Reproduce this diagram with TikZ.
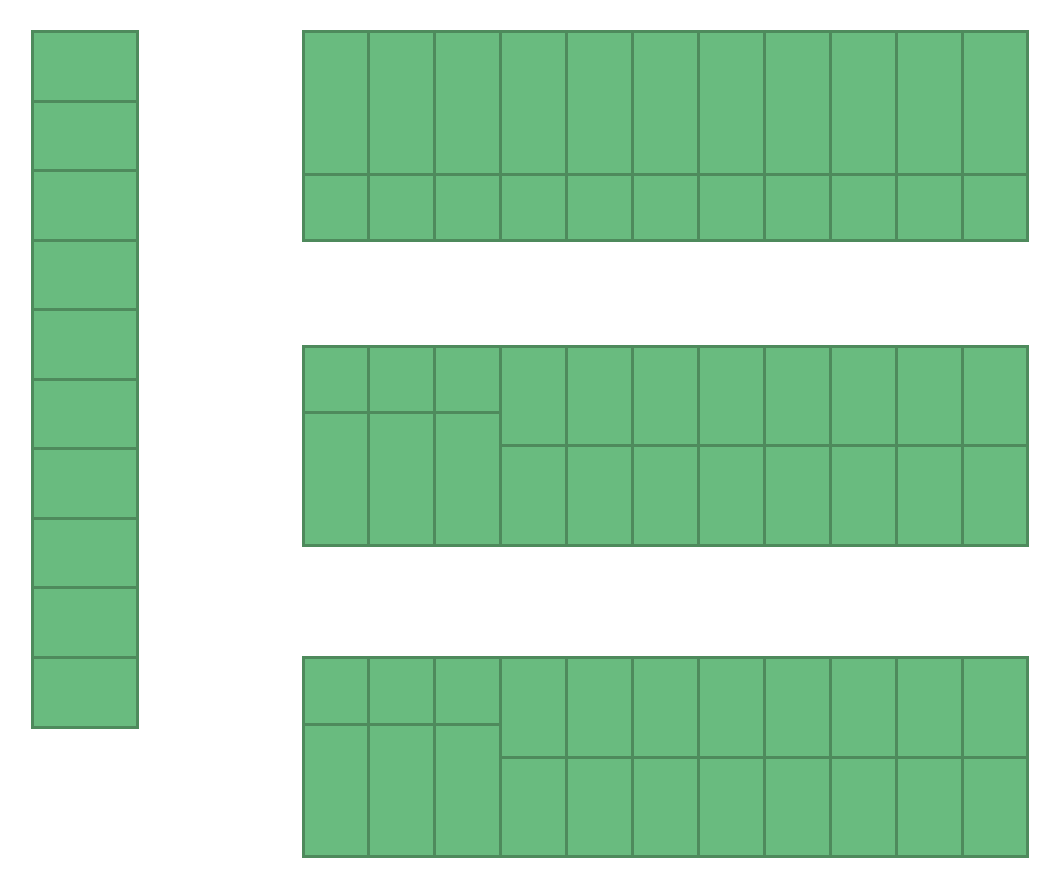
\documentclass[tikz,border=0pt]{standalone}
\definecolor{cellfill}{HTML}{69BB7F}
\definecolor{cellline}{HTML}{4E8A5C}
\begin{document}
\begin{tikzpicture}[x=1pt,y=-1pt,
  cell/.style={fill=cellfill,draw=cellline,line width=3pt}]
\useasboundingbox (0,0) rectangle (1060,888);
% left column
\foreach \i in {0,...,9}{
  \draw[cell] (32.5,{31.5+69.55*\i}) rectangle (137.5,{31.5+69.55*(\i+1)});
}
% block 1
\foreach \j in {0,...,10}{
  \draw[cell] ({303+65.9*\j},32) rectangle ({303+65.9*(\j+1)},174.5);
  \draw[cell] ({303+65.9*\j},174.5) rectangle ({303+65.9*(\j+1)},240.5);
}
% blocks 2 and 3
\foreach \t/\a/\b/\e in {346.5/412.5/445/545, 657.5/724/757/856}{
  \foreach \j in {0,...,2}{
    \draw[cell] ({303+65.9*\j},\t) rectangle ({303+65.9*(\j+1)},\a);
    \draw[cell] ({303+65.9*\j},\a) rectangle ({303+65.9*(\j+1)},\e);
  }
  \foreach \j in {3,...,10}{
    \draw[cell] ({303+65.9*\j},\t) rectangle ({303+65.9*(\j+1)},\b);
    \draw[cell] ({303+65.9*\j},\b) rectangle ({303+65.9*(\j+1)},\e);
  }
}
\end{tikzpicture}
\end{document}
